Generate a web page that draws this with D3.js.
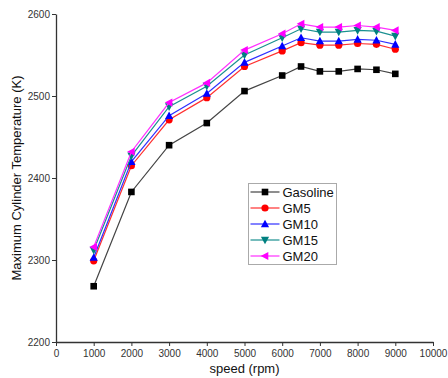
<!DOCTYPE html>
<html>
<head>
<meta charset="utf-8">
<script src="https://cdn.jsdelivr.net/npm/d3@7"></script>
<style>
  body { margin: 0; background: #fff; }
  svg { display: block; font-family: "Liberation Sans", Arial, sans-serif; }
</style>
</head>
<body>
<svg width="448" height="378"></svg>
<script>
const speeds = [1000, 2000, 3000, 4000, 5000, 6000, 6500, 7000, 7500, 8000, 8500, 9000]
const gasoline = [2268, 2383, 2440, 2467, 2506, 2525, 2536, 2530, 2530, 2533, 2532, 2527]
const gm5  = [2299, 2415, 2471, 2498, 2536, 2555, 2565, 2562, 2562, 2564, 2563, 2557]
const gm10 = [2303, 2420, 2476, 2503, 2541, 2561, 2571, 2567, 2567, 2569, 2568, 2563]
const gm15 = [2312, 2427, 2487, 2512, 2550, 2571, 2582, 2578, 2578, 2580, 2579, 2573]
const gm20 = [2316, 2432, 2492, 2516, 2556, 2576, 2588, 2584, 2584, 2586, 2584, 2580]
const seriesNames = ["Gasoline", "GM5", "GM10", "GM15", "GM20"]
const xTicks = [0, 1000, 2000, 3000, 4000, 5000, 6000, 7000, 8000, 9000, 10000]
const yTicks = [2200, 2300, 2400, 2500, 2600]

const series = [
  { name: seriesNames[0], values: gasoline, color: "#000000", symbol: "square", line: "#444" },
  { name: seriesNames[1], values: gm5, color: "#ff0000", symbol: "circle", line: "#ff3030" },
  { name: seriesNames[2], values: gm10, color: "#0000ff", symbol: "up", line: "#3030ff" },
  { name: seriesNames[3], values: gm15, color: "#008080", symbol: "down", line: "#1a9090" },
  { name: seriesNames[4], values: gm20, color: "#ff00ff", symbol: "left", line: "#ff30ff" }
]

const margin = { top: 14, right: 15, bottom: 36, left: 56 }
const width = 448, height = 378

const x = d3.scaleLinear().domain([0, 10000]).range([margin.left, 433])
const y = d3.scaleLinear().domain([2200, 2600]).range([height - margin.bottom, margin.top])

const svg = d3.select("svg")

// draw a marker of the given kind centered at (0,0)
function marker(g, kind, color) {
  const s = 3.3
  if (kind === "square") {
    g.append("rect").attr("x", -s).attr("y", -s).attr("width", 2 * s).attr("height", 2 * s).attr("fill", color)
  } else if (kind === "circle") {
    g.append("circle").attr("r", s + 0.3).attr("fill", color)
  } else {
    const pts = {
      up: [[0, -s - 1], [s + 0.8, s], [-s - 0.8, s]],
      down: [[0, s + 1], [s + 0.8, -s], [-s - 0.8, -s]],
      left: [[-s - 1, 0], [s, -s - 0.8], [s, s + 0.8]]
    }[kind]
    g.append("path").attr("d", "M" + pts.join("L") + "Z").attr("fill", color)
  }
}

// axes
svg.append("g")
    .attr("transform", `translate(0,${y(2200)})`)
    .call(d3.axisBottom(x).tickValues(xTicks).tickSize(4).tickSizeOuter(0).tickFormat(d3.format("d")))
    .call(g => g.select(".domain").attr("stroke", "#333").attr("stroke-width", 1.3))
    .call(g => g.selectAll(".tick line").attr("stroke", "#333"))
    .call(g => g.selectAll(".tick text").attr("fill", "#333").attr("font-size", 10).attr("y", 6).attr("dy", "0.85em"))

svg.append("g")
    .attr("transform", `translate(${x(0)},0)`)
    .call(d3.axisLeft(y).tickValues(yTicks).tickSize(4).tickSizeOuter(0).tickFormat(d3.format("d")))
    .call(g => g.select(".domain").attr("stroke", "#333").attr("stroke-width", 1.3))
    .call(g => g.selectAll(".tick line").attr("stroke", "#333"))
    .call(g => g.selectAll(".tick text").attr("fill", "#333").attr("font-size", 10).attr("x", -6))

// axis titles
svg.append("text")
    .attr("x", (x(0) + x(10000)) / 2).attr("y", 373)
    .attr("text-anchor", "middle").attr("font-size", 13).attr("fill", "#111")
    .text("speed (rpm)")

svg.append("text")
    .attr("transform", `translate(21,${(y(2200) + y(2600)) / 2}) rotate(-90)`)
    .attr("text-anchor", "middle").attr("font-size", 13).attr("fill", "#111")
    .text("Maximum Cylinder Temperature (K)")

// lines and markers
const line = d3.line().x((d, i) => x(speeds[i])).y(d => y(d))

series.forEach(s => {
  svg.append("path")
      .datum(s.values)
      .attr("fill", "none")
      .attr("stroke", s.line)
      .attr("stroke-width", 1.2)
      .attr("d", line)
  s.values.forEach((v, i) => {
    const g = svg.append("g").attr("transform", `translate(${x(speeds[i])},${y(v)})`)
    marker(g, s.symbol, s.color)
  })
})

// legend
const legend = svg.append("g").attr("transform", "translate(248.5,183.5)")
legend.append("rect")
    .attr("width", 88).attr("height", 81)
    .attr("fill", "#fff").attr("stroke", "#aaa").attr("stroke-width", 1)

series.forEach((s, i) => {
  const yy = 8.5 + i * 16
  legend.append("line")
      .attr("x1", 2).attr("x2", 31).attr("y1", yy).attr("y2", yy)
      .attr("stroke", s.line).attr("stroke-width", 1.2)
  marker(legend.append("g").attr("transform", `translate(16.5,${yy})`), s.symbol, s.color)
  legend.append("text")
      .attr("x", 34).attr("y", yy).attr("dy", "0.36em")
      .attr("font-size", 13).attr("fill", "#111")
      .text(s.name)
})
</script>
</body>
</html>
